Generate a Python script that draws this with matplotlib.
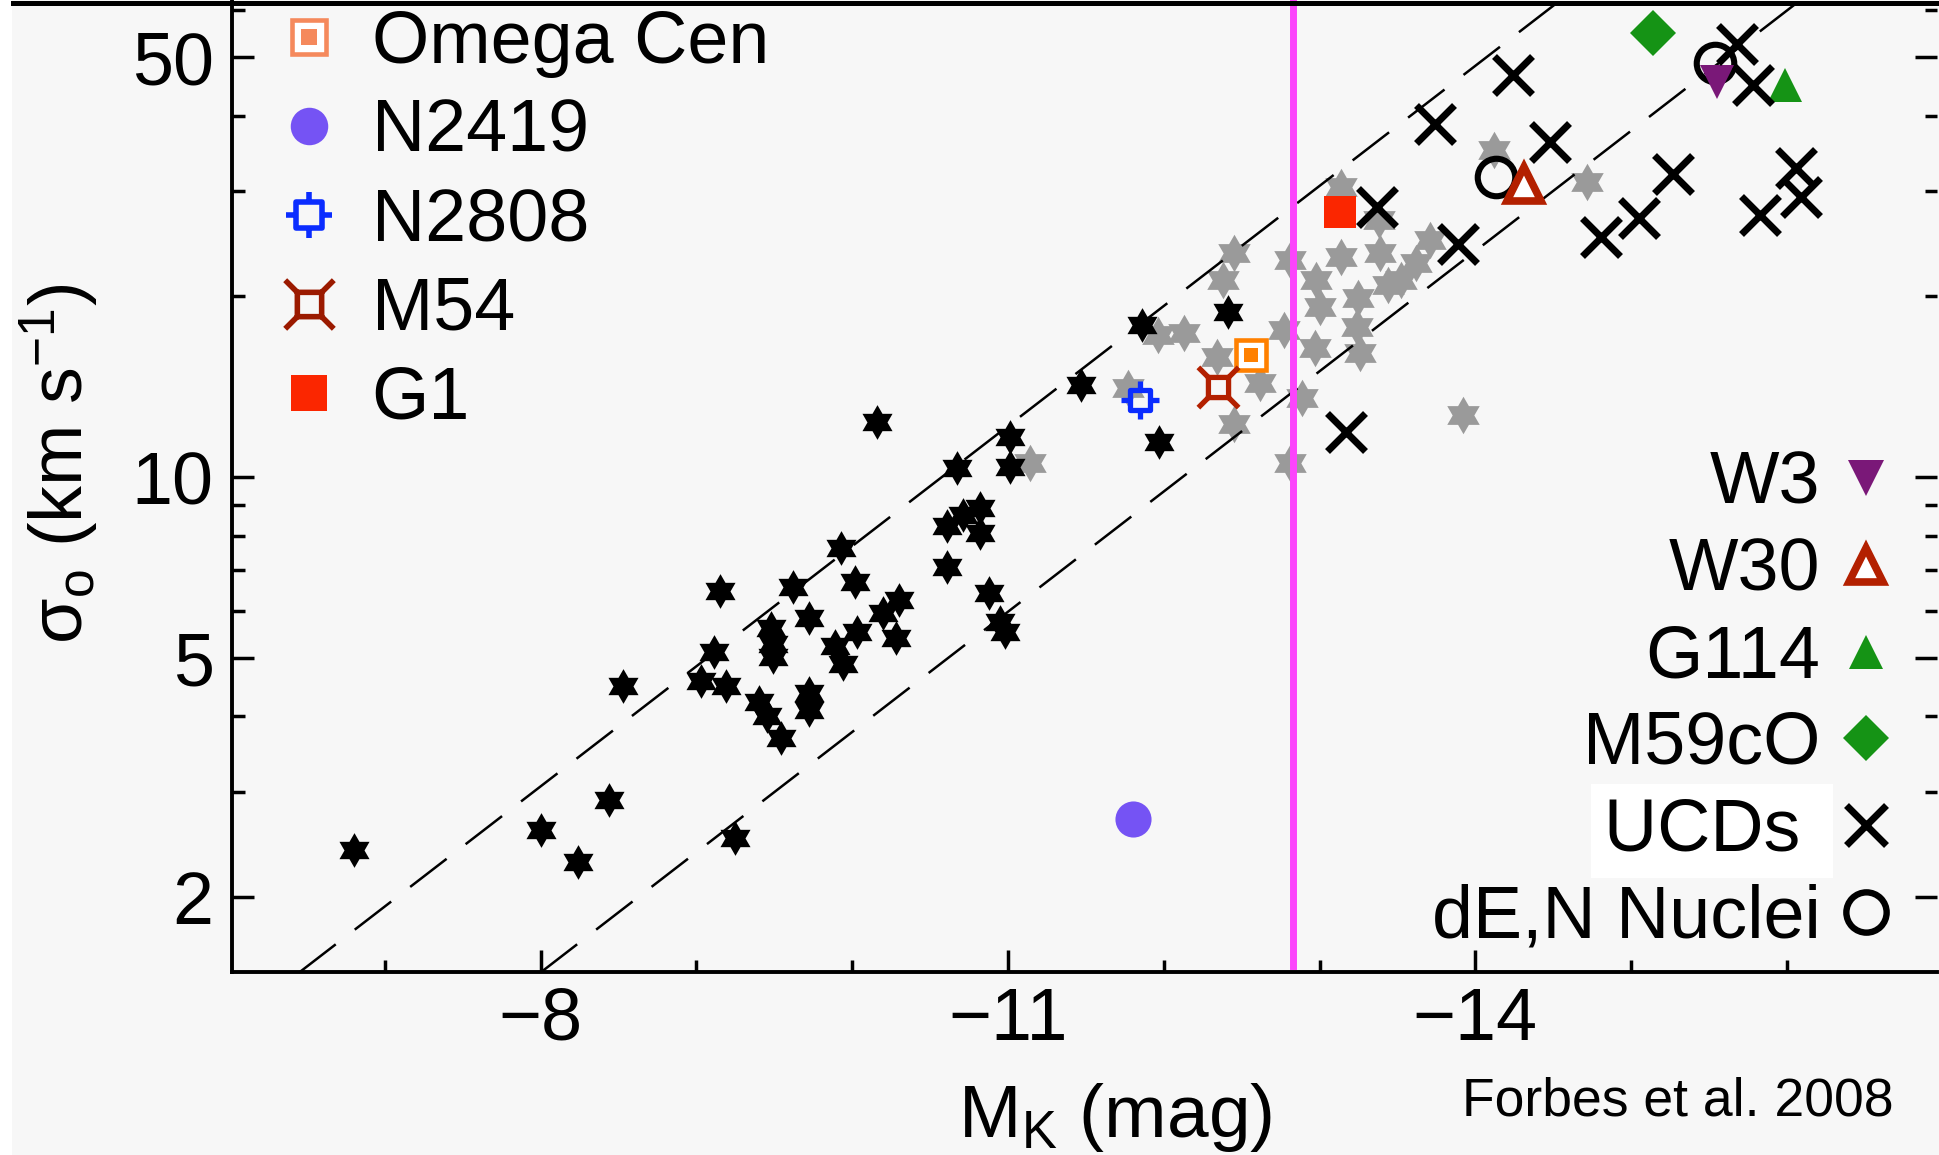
import matplotlib
matplotlib.use("Agg")
import matplotlib.pyplot as plt
from matplotlib.path import Path
from matplotlib.lines import Line2D
from matplotlib.patches import Rectangle
from matplotlib.ticker import FixedLocator, FixedFormatter, NullFormatter

plt.rcParams["font.family"] = ["Liberation Sans", "DejaVu Sans"]
plt.rcParams["mathtext.fontset"] = "custom"
plt.rcParams["mathtext.rm"] = "Liberation Sans"
plt.rcParams["mathtext.it"] = "Liberation Sans:italic"

# ---- data (M_K in mag, sigma_0 in km/s) ----
gc_black_M = [-6.80, -8.00, -8.24, -8.44, -8.53, -9.03, -9.19, -9.11, -9.15, -9.25,
              -9.40, -9.45, -9.54, -9.48, -9.49, -9.49, -9.62, -9.72, -9.72, -9.72,
              -9.93, -10.02, -9.89, -9.94, -10.03, -10.20, -10.30, -10.28, -10.61, -10.61,
              -10.71, -10.82, -10.82, -10.88, -10.95, -10.98, -10.16, -10.67, -11.01, -11.01,
              -11.47, -11.86, -11.97, -12.41]
gc_black_sigma = [2.40, 2.59, 2.29, 2.90, 4.50, 4.58, 4.50, 5.12, 6.48, 2.51,
                  4.23, 4.00, 3.68, 5.61, 5.29, 5.03, 6.58, 5.83, 4.37, 4.10,
                  7.62, 6.70, 5.23, 4.90, 5.53, 5.94, 6.25, 5.40, 8.30, 7.10,
                  8.66, 8.88, 8.07, 6.41, 5.75, 5.53, 12.38, 10.35, 11.68, 10.41,
                  14.24, 17.92, 11.46, 18.86]

gc_gray_M = [-11.14, -11.77, -11.96, -12.13, -12.34, -12.38, -12.45, -12.45, -12.81, -13.14,
             -13.14, -13.39, -12.98, -13.00, -13.25, -13.24, -13.26, -12.97, -12.77, -12.62,
             -12.89, -12.81, -13.92, -13.52, -13.62, -13.71, -14.12, -14.72, -13.38, -13.44]
gc_gray_sigma = [10.55, 14.06, 17.25, 17.36, 15.87, 21.30, 23.60, 12.25, 22.99, 30.44,
                 23.28, 23.60, 21.30, 19.22, 19.86, 17.81, 16.08, 16.39, 17.59, 14.33,
                 13.54, 10.55, 12.70, 21.30, 22.70, 24.82, 35.0, 31.0, 26.8, 20.9]

ucd_M = [-14.24, -13.74, -14.48, -13.37, -13.89, -15.27, -14.81, -15.05, -13.17, -15.68,
         -15.78, -16.06, -16.09, -15.83]
ucd_sigma = [46.7, 38.8, 36.2, 28.2, 24.5, 32.0, 25.1, 27.0, 11.9, 52.6,
             45.0, 32.7, 29.3, 27.3]

den_M = [-14.13, -15.54]
den_sigma = [31.6, 48.9]

omega_cen = (-12.56, 16.0)
n2419 = (-11.80, 2.70)
n2808 = (-11.85, 13.45)
m54 = (-12.35, 14.15)
g1 = (-13.13, 27.6)
w3 = (-15.55, 45.5)
w30 = (-14.31, 30.8)
g114 = (-15.99, 45.0)
m59co = (-15.14, 54.8)

upper_M, upper_sigma = [-6.45, -14.52], [1.5, 61.5]
lower_M, lower_sigma = [-8.00, -16.06], [1.5, 61.5]
mag_limit = -12.83

left_labels = ["Omega Cen", "N2419", "N2808", "M54", "G1"]
right_labels = ["W3", "W30", "G114", "M59cO", "UCDs ", "dE,N Nuclei"]

# ---- styles ----
BG = "#f7f7f7"
ORANGE, ORANGE_LEG = "#ff8000", "#f5895c"
PURPLE_C = "#7553f4"
BLUE = "#0a2cff"
DARKRED = "#b32000"
RED = "#fb2600"
PURPLE = "#7a1878"
GREEN = "#159315"

star6 = Path.unit_regular_star(6, innerCircle=0.577)
n2808_mark = Path(
    [(-.55, -.55), (.55, -.55), (.55, .55), (-.55, .55), (-.55, -.55),
     (0, .55), (0, 1), (0, -.55), (0, -1), (.55, 0), (1, 0), (-.55, 0), (-1, 0)],
    [Path.MOVETO, Path.LINETO, Path.LINETO, Path.LINETO, Path.CLOSEPOLY,
     Path.MOVETO, Path.LINETO, Path.MOVETO, Path.LINETO,
     Path.MOVETO, Path.LINETO, Path.MOVETO, Path.LINETO])
m54_mark = Path(
    [(-.5, -.5), (.5, -.5), (.5, .5), (-.5, .5), (-.5, -.5),
     (.5, .5), (1, 1), (-.5, .5), (-1, 1), (.5, -.5), (1, -1), (-.5, -.5), (-1, -1)],
    [Path.MOVETO, Path.LINETO, Path.LINETO, Path.LINETO, Path.CLOSEPOLY,
     Path.MOVETO, Path.LINETO, Path.MOVETO, Path.LINETO,
     Path.MOVETO, Path.LINETO, Path.MOVETO, Path.LINETO])

W, H = 1939, 1155
fig = plt.figure(figsize=(W / 100, H / 100), dpi=100, facecolor=BG)
ax = fig.add_axes([231.7 / W, (H - 971.7) / H, (1937 - 231.7) / W, 971.7 / H])
ax.set_facecolor(BG)
ax.set_yscale("log")
ax.set_xlim(-6.016, -16.964)
ax.set_ylim(1.504, 62.3)

# points
ax.plot(gc_gray_M, gc_gray_sigma, ls="none", marker=star6, ms=27, color="#9a9a9a", mew=0, zorder=2)
ax.plot(gc_black_M, gc_black_sigma, ls="none", marker=star6, ms=25, color="black", mew=0, zorder=2.2)
ax.plot(upper_M, upper_sigma, color="black", lw=1.8, dashes=(18.4, 9.6), zorder=3)
ax.plot(lower_M, lower_sigma, color="black", lw=1.8, dashes=(18.4, 9.6), zorder=3)

ax.plot(*omega_cen, ls="none", marker="s", ms=22, mfc="white", mec=ORANGE, mew=3.3, zorder=4)
ax.plot(*omega_cen, ls="none", marker="s", ms=10.5, color=ORANGE, mew=0, zorder=4.1)
ax.plot(*n2419, ls="none", marker="o", ms=26, color=PURPLE_C, mew=0, zorder=4)
ax.plot(*n2808, ls="none", marker=n2808_mark, ms=27, mfc="none", mec=BLUE, mew=3.8, zorder=4)
ax.plot(*m54, ls="none", marker=m54_mark, ms=29, mfc="none", mec=DARKRED, mew=3.8, zorder=4)
ax.plot(*g1, ls="none", marker="s", ms=23.5, color=RED, mew=0, zorder=4)
ax.plot(den_M, den_sigma, ls="none", marker="o", ms=27, mfc="none", mec="black", mew=4.4, zorder=4)
ax.plot(*w3, ls="none", marker="v", ms=25, color=PURPLE, mew=0, zorder=4.2)
ax.plot(*w30, ls="none", marker="^", ms=24, mfc="white", mec=DARKRED, mew=5.5, zorder=4)
ax.plot(*g114, ls="none", marker="^", ms=25, color=GREEN, mew=0, zorder=4)
ax.plot(*m59co, ls="none", marker="D", ms=23.5, color=GREEN, mew=0, zorder=4)
ax.plot(ucd_M, ucd_sigma, ls="none", marker="x", ms=27, mec="black", mew=5, zorder=4.5)

ax.axvline(mag_limit, ymin=0.006, color="#fc44fc", lw=5, zorder=6)

# axes styling
ax.xaxis.set_major_locator(FixedLocator([-8, -11, -14]))
ax.xaxis.set_major_formatter(FixedFormatter(["\u22128", "\u221211", "\u221214"]))
ax.xaxis.set_minor_locator(FixedLocator([-7, -9, -10, -12, -13, -15, -16]))
ax.yaxis.set_major_locator(FixedLocator([2, 5, 10, 50]))
ax.yaxis.set_major_formatter(FixedFormatter(["2", "5", "10", "50"]))
ax.yaxis.set_minor_locator(FixedLocator([3, 4, 6, 7, 8, 9, 20, 30, 40, 60]))
ax.yaxis.set_minor_formatter(NullFormatter())
ax.tick_params(which="both", direction="in", width=2.5, color="black", right=True, top=False)
ax.tick_params(which="major", length=16, labelsize=53)
ax.tick_params(which="minor", length=9)
ax.tick_params(axis="x", pad=10)
ax.tick_params(axis="y", pad=13)
for s in ("top", "right"):
    ax.spines[s].set_visible(False)
for s in ("left", "bottom"):
    ax.spines[s].set_linewidth(2.8)

ax.set_xlabel("M$_{\\rm K}$ (mag)", fontsize=54)
ax.xaxis.set_label_coords(0.518, -0.112)
ax.set_ylabel("\u03c3$_{\\rm o}$ (km s$^{-1}$)", fontsize=53)
ax.yaxis.set_label_coords(-0.0775, 0.523)

# legends
left_handles = [
    (Line2D([], [], ls="none", marker="s", ms=24, mfc="white", mec=ORANGE_LEG, mew=3.3),
     Line2D([], [], ls="none", marker="s", ms=11, color=ORANGE_LEG, mew=0)),
    Line2D([], [], ls="none", marker="o", ms=27, color=PURPLE_C, mew=0),
    Line2D([], [], ls="none", marker=n2808_mark, ms=33, mfc="none", mec=BLUE, mew=4),
    Line2D([], [], ls="none", marker=m54_mark, ms=35, mfc="none", mec="#9b1a00", mew=4),
    Line2D([], [], ls="none", marker="s", ms=26, color=RED, mew=0),
]
leg1 = ax.legend(left_handles, left_labels, loc="upper left",
                 bbox_to_anchor=(279.5 / W, 1 - 9 / H), bbox_transform=fig.transFigure,
                 frameon=False, fontsize=53, handlelength=0.8, handletextpad=0.45,
                 labelspacing=0.27, borderpad=0, borderaxespad=0)
ax.add_artist(leg1)

right_handles = [
    Line2D([], [], ls="none", marker="v", ms=26, color=PURPLE, mew=0),
    Line2D([], [], ls="none", marker="^", ms=25, mfc="white", mec=DARKRED, mew=5.5),
    Line2D([], [], ls="none", marker="^", ms=25, color=GREEN, mew=0),
    Line2D([], [], ls="none", marker="D", ms=23.5, color=GREEN, mew=0),
    Line2D([], [], ls="none", marker="x", ms=29, mec="black", mew=5),
    Line2D([], [], ls="none", marker="o", ms=29, mfc="none", mec="black", mew=4.6),
]
leg2 = ax.legend(right_handles, right_labels, loc="upper right",
                 bbox_to_anchor=(1895.5 / W, 1 - 450 / H), bbox_transform=fig.transFigure,
                 frameon=False, fontsize=53, markerfirst=False, handlelength=0.8,
                 handletextpad=0.22, labelspacing=0.24, borderpad=0, borderaxespad=0)
leg2.get_texts()[4].set_bbox(dict(facecolor="white", edgecolor="none", pad=9))

fig.text(1894 / W, 1 - 1115 / H, "Forbes et al. 2008", ha="right", va="baseline", fontsize=38.5)

# frame bits outside the axes
fig.add_artist(Line2D([13 / W, 1], [1 - 2.5 / H, 1 - 2.5 / H], transform=fig.transFigure,
                      color="black", lw=3.6))
fig.add_artist(Rectangle((0, 0), 12 / W, 1, transform=fig.transFigure,
                         facecolor="white", edgecolor="none"))

fig.savefig("out.png", dpi=100, facecolor=BG)
